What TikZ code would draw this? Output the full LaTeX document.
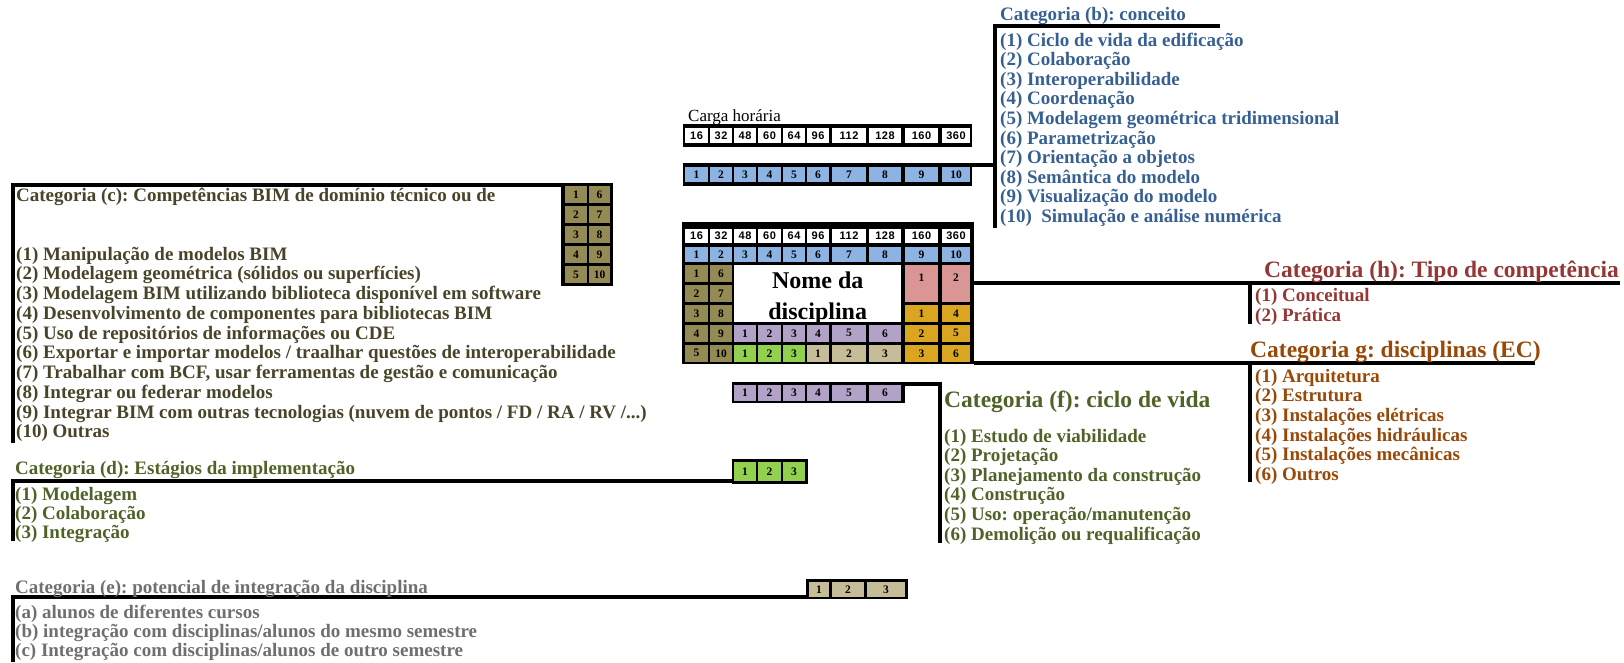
\documentclass[tikz,border=0pt]{standalone}
\usepackage{fontspec}
\setmainfont{Liberation Serif}
\newfontfamily\sansnum[LetterSpace=5]{Liberation Sans}
\usepackage{tikz}
\frenchspacing

\definecolor{cellblue}{HTML}{8DB3E2}
\definecolor{cellbrown}{HTML}{948A54}
\definecolor{cellpurple}{HTML}{B3A2C7}
\definecolor{cellgreen}{HTML}{92D050}
\definecolor{cellbeige}{HTML}{C4BD97}
\definecolor{cellpink}{HTML}{D99694}
\definecolor{cellgold}{HTML}{DAA520}
\definecolor{txtb}{HTML}{376092}
\definecolor{txtc}{HTML}{494429}
\definecolor{txtd}{HTML}{4F6228}
\definecolor{txte}{HTML}{6F6F6F}
\definecolor{txtf}{HTML}{4F6228}
\definecolor{txtg}{HTML}{984807}
\definecolor{txth}{HTML}{953735}

\newcommand\itemfont{\fontsize{19}{19.6}\selectfont\bfseries}
\newcommand\catfont{\fontsize{23.5}{24}\selectfont\bfseries}
\newcommand\cellfont{\fontsize{11.5}{11.5}\selectfont\bfseries}
\newcommand\hourfont{\sansnum\fontsize{11}{11}\selectfont\bfseries}

\tikzstyle{blackbox}=[fill=black, anchor=north west, inner sep=0pt, outer sep=0pt]
\tikzstyle{cell}=[anchor=north west, inner sep=0pt, outer sep=0pt, font=\cellfont]
\tikzstyle{hourcell}=[cell, fill=white, font=\hourfont]
\tikzstyle{bar}=[line width=4pt]
\tikzstyle{entry}=[anchor=base west, inner sep=0pt, font=\itemfont]
\tikzstyle{cattitle}=[anchor=base west, inner sep=0pt, font=\catfont]

\begin{document}
\begin{tikzpicture}[x=1pt,y=-1pt]
\useasboundingbox (0,0) rectangle (1624,662);

% carga horaria / conceito rows and the central block
\node[anchor=base west, inner sep=0pt, font=\fontsize{17}{17}\selectfont] (carga) at (688,121) {Carga horária};
\node[blackbox, minimum width=289, minimum height=23] (hoursrow) at (683,124) {};
\node[blackbox, minimum width=289, minimum height=23] (conceptrow) at (683,163) {};
\node[blackbox, minimum width=292, minimum height=142] (core) at (682,222) {};
\node[blackbox, minimum width=52, minimum height=103] (techkey) at (561,183) {};
\node[blackbox, minimum width=173, minimum height=21] (lifekey) at (732,382) {};
\node[blackbox, minimum width=76, minimum height=25] (stagekey) at (732,459) {};
\node[blackbox, minimum width=102, minimum height=20] (integkey) at (806,579) {};

\foreach \l/\r/\h [count=\c] in {685/708/16,710/732/32,734/756/48,758/781/60,783/805/64,807/829/96,832/866/112,869/901/128,905/938/160,942/970/360}{
  \node[hourcell, minimum width={(\r-\l)*1pt}, minimum height=15] (hours-\c) at (\l,128) {\h};
  \node[cell, fill=cellblue, minimum width={(\r-\l)*1pt}, minimum height=15] (concept-\c) at (\l,167) {\c};
  \node[hourcell, minimum width={(\r-\l)*1pt}, minimum height=14] (corehours-\c) at (\l,229) {\h};
  \node[cell, fill=cellblue, minimum width={(\r-\l)*1pt}, minimum height=15] (coreconcept-\c) at (\l,247) {\c};
}

\node[anchor=north west, fill=white, inner sep=0pt, minimum width=167, minimum height=57] (nome) at (734,265) {};
\node[anchor=north, inner sep=0pt, align=center, font=\fontsize{24}{31}\selectfont\bfseries] (nometxt) at ([yshift=-6.5pt]nome.north) {Nome da\\disciplina};

\foreach \t [count=\i] in {265,285,305,325,345}{
  \pgfmathtruncatemacro\j{\i+5}
  \node[cell, fill=cellbrown, minimum width=23, minimum height=16.5] (tech-\i) at (685,\t) {\i};
  \node[cell, fill=cellbrown, minimum width=22, minimum height=16.5] (tech-\j) at (710,\t) {\j};
}
\foreach \t [count=\i] in {186,206,226,246,266}{
  \pgfmathtruncatemacro\j{\i+5}
  \node[cell, fill=cellbrown, minimum width=22, minimum height=17] (techkey-\i) at (565,\t) {\i};
  \node[cell, fill=cellbrown, minimum width=21, minimum height=17] (techkey-\j) at (589,\t) {\j};
}
\foreach \l/\r [count=\i] in {734/756,758/781,783/805,807/829,832/866,869/901}{
  \node[cell, fill=cellpurple, minimum width={(\r-\l)*1pt}, minimum height=16.5] (life-\i) at (\l,325) {\i};
  \node[cell, fill=cellpurple, minimum width={(\r-\l)*1pt}, minimum height=16] (lifekey-\i) at (\l,385) {\i};
}
\foreach \l/\r [count=\i] in {734/756,758/781,783/805}{
  \node[cell, fill=cellgreen, minimum width={(\r-\l)*1pt}, minimum height=16.5] (stage-\i) at (\l,345) {\i};
  \node[cell, fill=cellgreen, minimum width={(\r-\l)*1pt}, minimum height=19] (stagekey-\i) at (\l,462) {\i};
}
\foreach \l/\r [count=\i] in {807/829,832/866,869/901}{
  \node[cell, fill=cellbeige, minimum width={(\r-\l)*1pt}, minimum height=16.5] (integ-\i) at (\l,345) {\i};
}
\foreach \l/\r [count=\i] in {809/829,832/864,867/905}{
  \node[cell, fill=cellbeige, minimum width={(\r-\l)*1pt}, minimum height=15] (integkey-\i) at (\l,582) {\i};
}
\foreach \t [count=\i] in {305,325,345}{
  \pgfmathtruncatemacro\j{\i+3}
  \node[cell, fill=cellgold, minimum width=33, minimum height=16.5] (disc-\i) at (905,\t) {\i};
  \node[cell, fill=cellgold, minimum width=28, minimum height=16.5] (disc-\j) at (942,\t) {\j};
}
\node[cell, fill=cellpink, minimum width=33, text height=16, text depth=21] (kind-1) at (905,265) {1};
\node[cell, fill=cellpink, minimum width=28, text height=16, text depth=21] (kind-2) at (942,265) {2};

% brackets
\coordinate (bcorner) at (995,26);
\coordinate (ccorner) at (13,185);
\coordinate (dcorner) at (13,481);
\coordinate (ecorner) at (13,597);
\coordinate (fcorner) at (940,384);
\coordinate (gcorner) at (1250,363);
\coordinate (hcorner) at (1250,283);
\draw[bar] ([xshift=225pt]bcorner) -- (bcorner) -- ++(0,202);
\draw[bar] ([yshift=-2pt]conceptrow.north east) -| (bcorner);
\draw[bar] ([yshift=-2pt]techkey.north west) -- (ccorner) -- ++(0,258);
\draw[bar] ([yshift=3pt]stagekey.south west) -- (dcorner) -- ++(0,60);
\draw[bar] ([yshift=2pt]integkey.south west) -- (ecorner) -- ++(0,65);
\draw[bar] ([yshift=-2pt]lifekey.north east) -- (fcorner) -- ++(0,159);
\draw[bar] (core.east |- hcorner) -- (hcorner) -- ++(370,0);
\draw[bar] (hcorner) -- ++(0,41);
\draw[bar] (core.east |- gcorner) -- (gcorner) -- ++(285,0);
\draw[bar] (gcorner) -- ++(0,119);

% category texts
\node[entry, text=txtb] (catb) at (1000,20) {Categoria (b): conceito};
\foreach \lbl [count=\i] in {{(1) Ciclo de vida da edificação},{(2) Colaboração},{(3) Interoperabilidade},{(4) Coordenação},{(5) Modelagem geométrica tridimensional},{(6) Parametrização},{(7) Orientação a objetos},{(8) Semântica do modelo},{(9) Visualização do modelo},{(10)~ Simulação e análise numérica}}
  \node[entry, text=txtb] (catb-\i) at (1000,{46+19.6*(\i-1)}) {\lbl};

\node[entry, text=txtc] (catc) at (16,201) {Categoria (c): Competências BIM de domínio técnico ou de};
\foreach \lbl [count=\i] in {{(1) Manipulação de modelos BIM},{(2) Modelagem geométrica (sólidos ou superfícies)},{(3) Modelagem BIM utilizando biblioteca disponível em software},{(4) Desenvolvimento de componentes para bibliotecas BIM},{(5) Uso de repositórios de informações ou CDE},{(6) Exportar e importar modelos / traalhar questões de interoperabilidade},{(7) Trabalhar com BCF, usar ferramentas de gestão e comunicação},{(8) Integrar ou federar modelos},{(9) Integrar BIM com outras tecnologias (nuvem de pontos / FD / RA / RV /.{}.{}.)},{(10) Outras}}
  \node[entry, text=txtc] (catc-\i) at (16,{260+19.75*(\i-1)}) {\lbl};

\node[entry, text=txtd] (catd) at (15,474) {Categoria (d): Estágios da implementação};
\foreach \lbl [count=\i] in {{(1) Modelagem},{(2) Colaboração},{(3) Integração}}
  \node[entry, text=txtd] (catd-\i) at (15,{500+19*(\i-1)}) {\lbl};

\node[entry, text=txte] (cate) at (15,593) {Categoria (e): potencial de integração da disciplina};
\foreach \lbl [count=\i] in {{(a) alunos de diferentes cursos},{(b) integração com disciplinas/alunos do mesmo semestre},{(c) Integração com disciplinas/alunos de outro semestre}}
  \node[entry, text=txte] (cate-\i) at (15,{618+19*(\i-1)}) {\lbl};

\node[cattitle, text=txtf] (catf) at (944,407) {Categoria (f): ciclo de vida};
\foreach \lbl [count=\i] in {{(1) Estudo de viabilidade},{(2) Projetação},{(3) Planejamento da construção},{(4) Construção},{(5) Uso: operação/manutenção},{(6) Demolição ou requalificação}}
  \node[entry, text=txtf] (catf-\i) at (944,{442+19.6*(\i-1)}) {\lbl};

\node[cattitle, text=txtg] (catg) at (1250,357) {Categoria g: disciplinas (EC)};
\foreach \lbl [count=\i] in {{(1) Arquitetura},{(2) Estrutura},{(3) Instalações elétricas},{(4) Instalações hidráulicas},{(5) Instalações mecânicas},{(6) Outros}}
  \node[entry, text=txtg] (catg-\i) at (1255,{382+19.7*(\i-1)}) {\lbl};

\node[cattitle, text=txth] (cath) at (1264,277) {Categoria (h): Tipo de competência};
\node[entry, text=txth] (cath-1) at (1255,301) {(1) Conceitual};
\node[entry, text=txth] (cath-2) at (1255,321) {(2) Prática};
\end{tikzpicture}
\end{document}
